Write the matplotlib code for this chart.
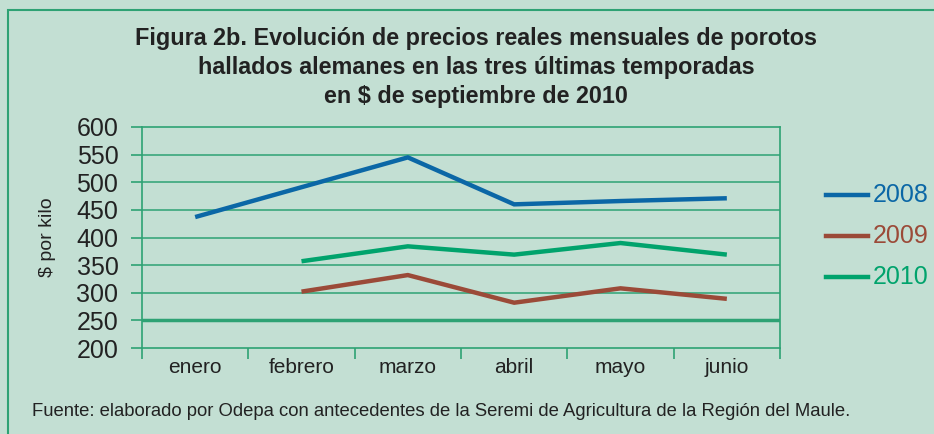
import numpy as np
import matplotlib.pyplot as plt
from matplotlib.patches import Rectangle

plt.rcParams["font.family"] = ["Liberation Sans", "DejaVu Sans"]

meses = ["enero", "febrero", "marzo", "abril", "mayo", "junio"]
p2008 = [437, 491, 545, 460, 466, 471]
p2009 = [np.nan, 302, 332, 282, 308, 289]
p2010 = [np.nan, 357, 384, 369, 390, 369]
series = [("2008", p2008, "#0b67a6"), ("2009", p2009, "#9b4a38"), ("2010", p2010, "#00a36c")]

bg = "#c3dfd3"
grid = "#2ea274"
txt = "#222222"

fig = plt.figure(figsize=(9.34, 4.34), dpi=100, facecolor=bg)
fig.patches.append(Rectangle((8 / 934, -0.1), 1.2, (434 - 10) / 434 + 0.1, transform=fig.transFigure,
                             fill=False, edgecolor=grid, lw=1.5))

ax = fig.add_axes([142 / 934, (434 - 348) / 434, (780 - 142) / 934, (348 - 127) / 434])
ax.set_facecolor(bg)

x = np.arange(len(meses))
for name, vals, col in series:
    ax.plot(x, vals, color=col, lw=3.2, solid_capstyle="butt", solid_joinstyle="miter", zorder=3)

ax.set_xlim(-0.5, len(meses) - 0.5)
ax.set_ylim(200, 600)
ax.set_yticks(np.arange(200, 601, 50))
ax.set_xticks(x)
ax.set_xticklabels(meses, fontsize=15, color=txt)
ax.set_xticks(np.arange(-0.5, len(meses)), minor=True)
ax.tick_params(axis="x", which="major", length=0, pad=7)
ax.tick_params(axis="x", which="minor", length=8, color=grid, width=1.2, direction="out")
ax.tick_params(axis="y", length=8, color=grid, width=1.2, labelsize=18, labelcolor=txt, pad=9)

for yv in np.arange(250, 600, 50):
    ax.axhline(yv, color=grid, lw=2.5 if yv == 250 else 1.1, zorder=1)
for s in ax.spines.values():
    s.set_color(grid)
    s.set_linewidth(1.2)

ax.set_ylabel("$ por kilo", fontsize=14, color=txt, labelpad=15)

for i, (name, vals, col) in enumerate(series):
    yy = 1 - (195 + 41 * i) / 434
    fig.add_artist(plt.Line2D([826 / 934, 868 / 934], [yy, yy], color=col, lw=3.2,
                              transform=fig.transFigure))
    fig.text(873 / 934, yy, name, color=col, fontsize=18, va="center", ha="left")

fig.text(476 / 934, 1 - 67.5 / 434,
         "Figura 2b. Evolución de precios reales mensuales de porotos\n"
         "hallados alemanes en las tres últimas temporadas\n"
         "en $ de septiembre de 2010",
         ha="center", va="center", fontsize=16.8, fontweight="bold", color=txt,
         linespacing=1.32)

fig.text(32 / 934, 1 - 411 / 434,
         "Fuente: elaborado por Odepa con antecedentes de la Seremi de Agricultura de la Región del Maule.",
         fontsize=13.3, color=txt, va="center", ha="left")

fig.savefig("out.png", dpi=100, facecolor=bg)
